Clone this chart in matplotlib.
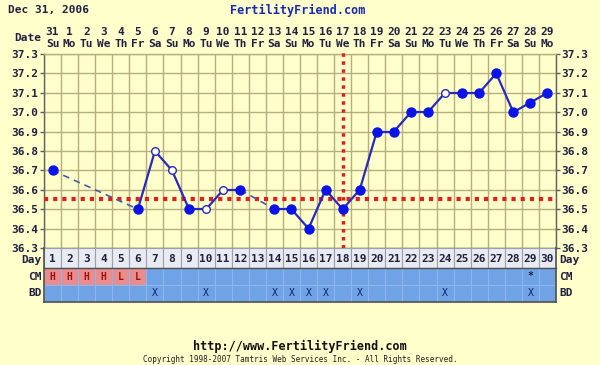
import matplotlib
matplotlib.use("Agg")
import matplotlib.pyplot as plt
from matplotlib.patches import Rectangle

# chart data
days = list(range(1, 31))
dates = [31] + list(range(1, 30))
weekdays = ["Su", "Mo", "Tu", "We", "Th", "Fr", "Sa"] * 5
temps = [36.7, None, None, None, None, 36.5, 36.8, 36.7, 36.5, 36.5,
         36.6, 36.6, None, 36.5, 36.5, 36.4, 36.6, 36.5, 36.6, 36.9,
         36.9, 37.0, 37.0, 37.1, 37.1, 37.1, 37.2, 37.0, 37.05, 37.1]
open_days = [7, 8, 10, 11, 24]
cm = ["H", "H", "H", "H", "L", "L"] + [""] * 22 + ["*", ""]
bd_days = [7, 10, 14, 15, 16, 17, 19, 24, 29]
coverline = 36.555
ovulation_day = 18
yticks = [36.3, 36.4, 36.5, 36.6, 36.7, 36.8, 36.9, 37.0, 37.1, 37.2, 37.3]

BG = "#FFFFCC"
GRID = "#B5AE7E"
TXT = "#202040"
BLUE = "#0A14E6"
LINE = "#2A2AB8"
RED = "#E02020"
CELL = "#6FA3E6"
PINK = "#E98C8C"
FONT = "DejaVu Sans Mono"

W, H = 600, 365
fig = plt.figure(figsize=(6, 3.65), dpi=100, facecolor=BG)

def fx(px):
    return px / W

def fy(py):
    return 1 - py / H

left, right, top, bottom = 44, 556, 54, 248
ax = fig.add_axes([fx(left), fy(bottom), fx(right - left), (bottom - top) / H])
ax.set_facecolor(BG)
ax.set_xlim(0.5, 30.5)
ax.set_ylim(36.3, 37.3)

for d in range(31):
    ax.axvline(d + 0.5, color=GRID, lw=1, zorder=1)
for t in yticks:
    ax.axhline(t, color=GRID, lw=1, zorder=1)

for s in ax.spines.values():
    s.set_color("#606060")
    s.set_linewidth(1)
ax.spines["top"].set_color(GRID)

ax.set_xticks([])
ax.set_yticks(yticks)
ax.set_yticklabels(["%.1f" % t for t in yticks])
ax.tick_params(axis="y", length=3, width=1, color="#606060", pad=1,
               labelsize=8, labelcolor=TXT, right=True, labelright=True)
for lab in ax.get_yticklabels():
    lab.set_fontfamily(FONT)
    lab.set_fontweight("bold")

# coverline and ovulation line
ax.axhline(coverline, color=RED, lw=3, ls=(0, (1, 1.2)), zorder=3)
ax.axvline(ovulation_day, color=RED, lw=2.5, ls=(0, (1, 1.3)), zorder=3,
           ymin=0, ymax=1.02, clip_on=False)

# temperature line
pts = [(d, t) for d, t in zip(days, temps) if t is not None]
for (d0, t0), (d1, t1) in zip(pts[:-1], pts[1:]):
    if d1 - d0 == 1:
        ax.plot([d0, d1], [t0, t1], color=LINE, lw=1.6, zorder=4)
    else:
        ax.plot([d0, d1], [t0, t1], color="#4A58A8", lw=1.2,
                ls=(0, (4, 3)), zorder=4)
for d, t in pts:
    if d in open_days:
        ax.plot(d, t, "o", ms=5.5, mfc="white", mec=LINE, mew=1, zorder=5)
    else:
        ax.plot(d, t, "o", ms=6.5, mfc=BLUE, mec=BLUE, zorder=5)

# date header
for d, dt, wd in zip(days, dates, weekdays):
    x = fx(left) + (d - 0.5) / 30 * fx(right - left)
    fig.text(x, fy(32), str(dt), ha="center", va="center", fontsize=8,
             family=FONT, weight="bold", color=TXT)
    fig.text(x, fy(44), wd, ha="center", va="center", fontsize=8,
             family=FONT, weight="bold", color=TXT)
fig.text(fx(28), fy(38), "Date", ha="center", va="center", fontsize=8,
         family=FONT, weight="bold", color=TXT)

# chart table: Day row 248-268, CM 268-285, BD 285-302
tab = fig.add_axes([fx(left), fy(302), fx(right - left), 54 / H])
tab.set_xlim(0.5, 30.5)
tab.set_ylim(0, 54)
tab.axis("off")
rows = {"Day": (34, 20), "CM": (17, 17), "BD": (0, 17)}
for d in days:
    y0, h = rows["Day"]
    tab.add_patch(Rectangle((d - 0.5, y0), 1, h, fc="#E8ECF0", ec="#9AA0B0", lw=0.8))
    tab.text(d, y0 + h / 2 - 1, str(d), ha="center", va="center", fontsize=8,
             family=FONT, weight="bold", color=TXT)
    c = cm[d - 1]
    fc = PINK if c in ("H", "L") else CELL
    y0, h = rows["CM"]
    tab.add_patch(Rectangle((d - 0.5, y0), 1, h, fc=fc, ec="#8DB6EE", lw=0.8))
    if c:
        tab.text(d, y0 + h / 2, c, ha="center", va="center", fontsize=7,
                 family=FONT, weight="bold",
                 color="#A01010" if c != "*" else TXT)
    y0, h = rows["BD"]
    tab.add_patch(Rectangle((d - 0.5, y0), 1, h, fc=CELL, ec="#8DB6EE", lw=0.8))
    if d in bd_days:
        tab.text(d, y0 + h / 2, "X", ha="center", va="center", fontsize=7,
                 family=FONT, color="#10206A")
tab.plot([0.5, 30.5], [0, 0], color="#505050", lw=1.2, clip_on=False)
tab.plot([0.5, 0.5], [0, 54], color="#505050", lw=1.2, clip_on=False)
tab.plot([30.5, 30.5], [0, 54], color="#505050", lw=1.2, clip_on=False)
tab.plot([0.5, 30.5], [34, 34], color="#505050", lw=1, clip_on=False)

for name, (y0, h) in rows.items():
    yy = y0 + h / 2 - (2 if name == "Day" else 0)
    tab.text(0.35, yy, name, ha="right", va="center", fontsize=8,
             family=FONT, weight="bold", color=TXT)
    tab.text(30.7, yy, name, ha="left", va="center", fontsize=8,
             family=FONT, weight="bold", color=TXT)

# titles and footer
fig.text(fx(8), fy(10), "Dec 31, 2006", ha="left", va="center", fontsize=8,
         family=FONT, weight="bold", color=TXT)
fig.text(fx(298), fy(10), "FertilityFriend.com", ha="center", va="center",
         fontsize=8.5, family=FONT, weight="bold", color="#1A2AB0")
fig.text(fx(300), fy(346), "http://www.FertilityFriend.com", ha="center",
         va="center", fontsize=8.5, family=FONT, weight="bold", color="#101010")
fig.text(fx(300), fy(359),
         "Copyright 1998-2007 Tamtris Web Services Inc. - All Rights Reserved.",
         ha="center", va="center", fontsize=5.5, family=FONT, color="#202020")

fig.savefig("out.png", dpi=100, facecolor=BG)
